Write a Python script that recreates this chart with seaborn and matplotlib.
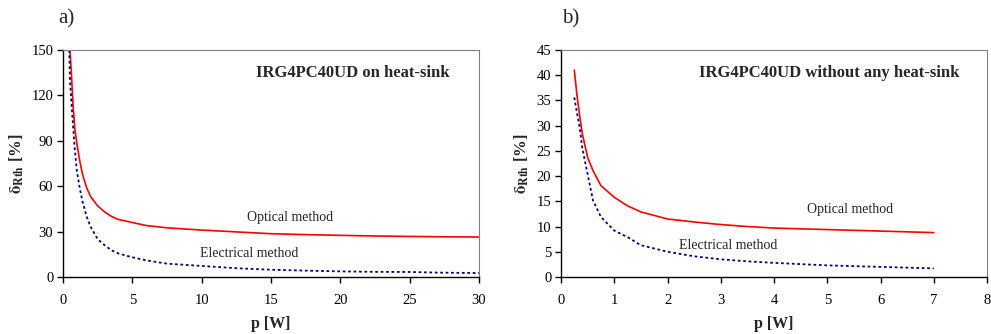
import numpy as np
import pandas as pd
import seaborn as sns
import matplotlib.pyplot as plt

# panel a) - on heat-sink
p_a = [0.45, 0.5, 0.6, 0.72, 0.85, 1.0, 1.2, 1.4, 1.7, 2.0, 2.5, 3.0, 3.5, 4.0, 5.0, 6.0, 7.5, 10, 12.5, 15, 17.5, 20, 22.5, 25, 27, 30]
opt_a = [None, 150, 135, 114, 98, 88, 77, 68, 59, 53, 47, 43, 40, 38, 36, 34, 32.5, 31, 29.8, 28.6, 28.0, 27.5, 27.1, 26.8, 26.6, 26.4]
ele_a = [150, 130, 116, 100, 84, 70, 59, 50, 40, 33, 25, 21, 17.6, 15.5, 13, 11, 8.8, 7.3, 5.8, 4.8, 4.2, 3.7, 3.4, 3.3, 2.9, 2.6]

# panel b) - without heat-sink
p_b = [0.25, 0.3, 0.35, 0.4, 0.5, 0.6, 0.75, 1.0, 1.25, 1.5, 2.0, 2.5, 3.0, 3.5, 4.0, 5.0, 6.0, 7.0]
opt_b = [41, 36, 32, 28.4, 23.7, 21.1, 18.1, 15.8, 14.1, 12.9, 11.5, 10.9, 10.4, 10.0, 9.7, 9.4, 9.1, 8.8]
ele_b = [35.6, 32.5, 29.7, 25.5, 20.4, 15.2, 11.9, 9.2, 7.9, 6.3, 5.0, 4.1, 3.5, 3.1, 2.8, 2.3, 2.0, 1.7]

sns.set_style("white")
plt.rcParams['font.family'] = ['Liberation Serif', 'DejaVu Serif']
plt.rcParams['mathtext.fontset'] = 'stix'

fig = plt.figure(figsize=(9.91, 3.34), dpi=100)
ax1 = fig.add_axes([0.0636, 0.1707, 0.4198, 0.6796])
ax2 = fig.add_axes([0.5661, 0.1707, 0.4299, 0.6796])

df_a = pd.DataFrame({"p": p_a, "opt": opt_a, "ele": ele_a})
df_b = pd.DataFrame({"p": p_b, "opt": opt_b, "ele": ele_b})

for ax, df in [(ax1, df_a), (ax2, df_b)]:
    sns.lineplot(data=df, x="p", y="opt", ax=ax, color="red", lw=1.2)
    sns.lineplot(data=df, x="p", y="ele", ax=ax, color="#000080", lw=1.3, linestyle=(0, (1.5, 1.5)))
    for s in ["top", "right"]:
        ax.spines[s].set_color("#808080")
        ax.spines[s].set_linewidth(0.8)
    for s in ["left", "bottom"]:
        ax.spines[s].set_color("black")
        ax.spines[s].set_linewidth(1.0)
    ax.tick_params(axis="both", direction="out", length=4, width=1, labelsize=10.5, pad=3,
                   bottom=True, left=True, colors="black")
    ax.tick_params(axis="x", pad=8)
    ax.set_xlabel("p [W]", fontsize=11.5, fontweight="bold", labelpad=7)
    ax.set_ylabel(r"$\mathbf{\delta_{Rth}}$ [%]", fontsize=12, fontweight="bold", labelpad=4)

ax1.set_xlim(0, 30)
ax1.set_ylim(0, 150)
ax1.set_xticks(range(0, 31, 5))
ax1.set_yticks(range(0, 151, 30))
ax1.text(13.9, 135, "IRG4PC40UD on heat-sink", fontsize=12, fontweight="bold", va="center")
ax1.text(13.3, 39.6, "Optical method", fontsize=10, va="center")
ax1.text(9.9, 15.2, "Electrical method", fontsize=10, va="center")
fig.text(0.059, 0.943, "a)", fontsize=15, va="center")

ax2.set_xlim(0, 8)
ax2.set_ylim(0, 45)
ax2.set_xticks(range(0, 9))
ax2.set_yticks(range(0, 46, 5))
ax2.text(2.59, 40.4, "IRG4PC40UD without any heat-sink", fontsize=12, fontweight="bold", va="center")
ax2.text(4.62, 13.3, "Optical method", fontsize=10, va="center")
ax2.text(2.22, 6.3, "Electrical method", fontsize=10, va="center")
fig.text(0.567, 0.943, "b)", fontsize=15, va="center")

fig.savefig("out.png", dpi=100)
